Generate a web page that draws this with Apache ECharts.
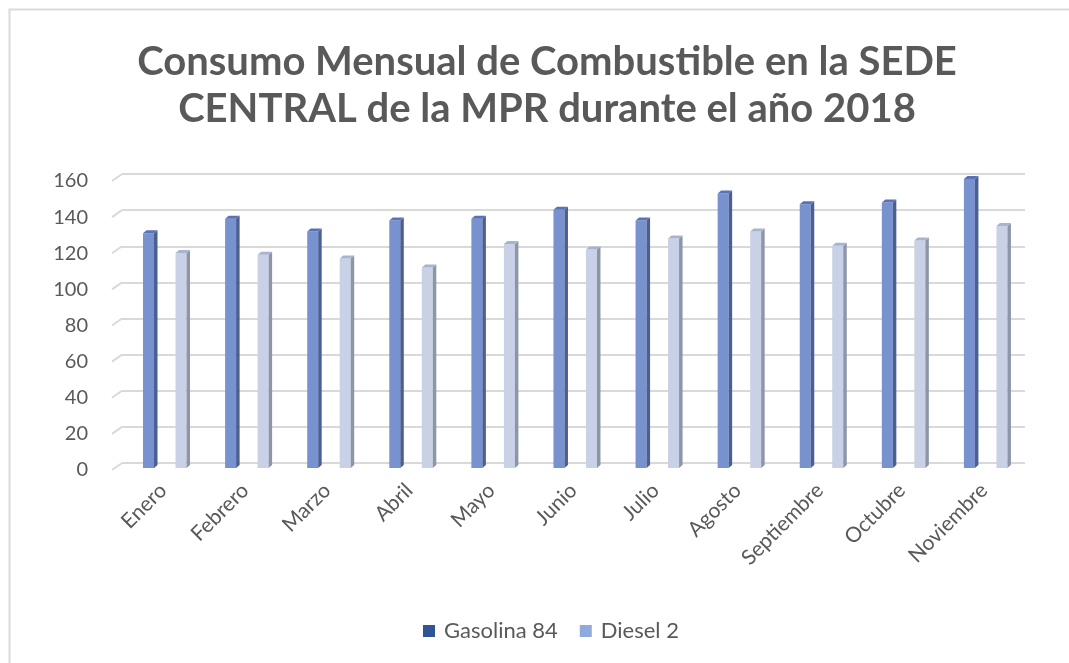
<!DOCTYPE html>
<html>
<head>
<meta charset="utf-8">
<script src="https://cdn.jsdelivr.net/npm/echarts@6/dist/echarts.min.js"></script>
<style>
  html, body { margin: 0; padding: 0; background: #fff; }
  #chart { width: 1069px; height: 663px; }
</style>
</head>
<body>
<div id="chart"></div>
<script>
// datos
var meses = ['Enero', 'Febrero', 'Marzo', 'Abril', 'Mayo', 'Junio', 'Julio', 'Agosto', 'Septiembre', 'Octubre', 'Noviembre'];
var gasolina84 = [130, 138, 131, 137, 138, 143, 137, 152, 146, 147, 160];
var diesel2 = [119, 118, 116, 111, 124, 121, 127, 131, 123, 126, 134];
var yTicks = [0, 20, 40, 60, 80, 100, 120, 140, 160];

const FONT = 'Lato';
const TEXT_COLOR = '#595959';
const GRID_COLOR = '#D9D9D9';

// barra con efecto 3D (cara frontal, lateral y superior)
function barra3d(offset, front, side, top) {
  return function (params, api) {
    var idx = api.value(0);
    var base = api.coord([idx, 0]);
    var tip = api.coord([idx, api.value(1)]);
    var band = api.size([1, 0])[0];
    var cx = base[0] + band * offset;
    var w = 11, d = 3.5, dh = 3, dy = 5;
    var x0 = cx - w / 2, x1 = cx + w / 2;
    var yb = base[1] + dy, yt = tip[1] + dy;
    return {
      type: 'group',
      children: [
        { type: 'rect', shape: { x: x0, y: yt, width: w, height: yb - yt }, style: { fill: front } },
        { type: 'polygon', shape: { points: [[x1, yt], [x1 + d, yt - dh], [x1 + d, yb - dh], [x1, yb]] }, style: { fill: side } },
        { type: 'polygon', shape: { points: [[x0, yt], [x0 + d, yt - dh], [x1 + d, yt - dh], [x1, yt]] }, style: { fill: top } }
      ]
    };
  };
}

// tramo inclinado de las lineas de division (piso 3D)
function pisoGrid(params, api) {
  var p = api.coord([0, api.value(1)]);
  var band = api.size([1, 0])[0];
  var left = p[0] - band / 2;
  return {
    type: 'line',
    shape: { x1: left - 10, y1: p[1] + 7, x2: left, y2: p[1] },
    style: { stroke: GRID_COLOR, lineWidth: 2 }
  };
}

var chart = echarts.init(document.getElementById('chart'));

var option = {
  animation: false,
  textStyle: { fontFamily: FONT },
  graphic: [{
    type: 'rect',
    shape: { x: 9.5, y: 9.5, width: 1100, height: 700 },
    style: { fill: null, stroke: '#DADADA', lineWidth: 2 },
    silent: true
  }],
  title: {
    text: 'Consumo Mensual de Combustible en la SEDE\nCENTRAL de la MPR durante el año 2018',
    left: 542,
    top: 34,
    textAlign: 'center',
    textStyle: {
      fontFamily: FONT,
      fontSize: 40,
      fontWeight: 'bold',
      color: TEXT_COLOR,
      lineHeight: 47
    }
  },
  legend: {
    bottom: 16,
    left: 418,
    icon: 'rect',
    itemWidth: 12,
    itemHeight: 12,
    itemGap: 22,
    data: ['Gasolina 84', 'Diesel 2'],
    textStyle: { fontFamily: FONT, fontSize: 22, color: TEXT_COLOR, padding: [0, 0, 0, 4] }
  },
  grid: {
    left: 122,
    right: 44,
    top: 174,
    bottom: 200
  },
  xAxis: {
    type: 'category',
    data: meses,
    axisLine: { show: false },
    axisTick: { show: false },
    axisLabel: {
      rotate: 45,
      margin: 24,
      fontFamily: FONT,
      fontSize: 21,
      color: TEXT_COLOR
    }
  },
  yAxis: {
    type: 'value',
    min: 0,
    max: 160,
    interval: 20,
    axisLine: { show: false },
    axisTick: { show: false },
    splitLine: { lineStyle: { color: GRID_COLOR, width: 2 } },
    axisLabel: {
      margin: 34,
      verticalAlign: 'top',
      lineHeight: 14,
      fontFamily: FONT,
      fontSize: 20,
      color: TEXT_COLOR
    }
  },
  series: [
    {
      type: 'custom',
      silent: true,
      renderItem: pisoGrid,
      data: yTicks.map(function (v) { return [0, v]; })
    },
    {
      name: 'Gasolina 84',
      type: 'custom',
      itemStyle: { color: '#2F5597' },
      renderItem: barra3d(-0.177, '#7891CF', '#4A5F94', '#5A72B5'),
      encode: { x: 0, y: 1 },
      data: gasolina84.map(function (v, i) { return [i, v]; })
    },
    {
      name: 'Diesel 2',
      type: 'custom',
      itemStyle: { color: '#8FAADC' },
      renderItem: barra3d(0.219, '#C8D1E6', '#8D95A8', '#A8B3CF'),
      encode: { x: 0, y: 1 },
      data: diesel2.map(function (v, i) { return [i, v]; })
    }
  ]
};

chart.setOption(option);
</script>
</body>
</html>
